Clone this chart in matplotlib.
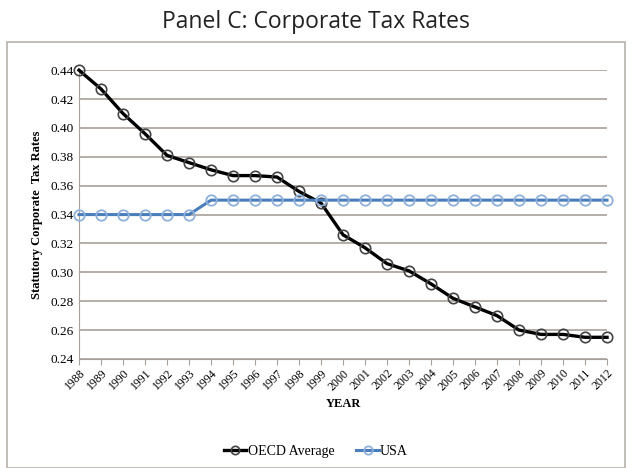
import matplotlib
matplotlib.use("Agg")
import matplotlib.pyplot as plt
from matplotlib.patches import Rectangle

years = list(range(1988, 2013))
oecd = [0.440, 0.427, 0.410, 0.396, 0.381, 0.376, 0.371, 0.367, 0.367, 0.366,
        0.356, 0.348, 0.326, 0.317, 0.306, 0.301, 0.292, 0.282, 0.276, 0.270,
        0.260, 0.257, 0.257, 0.255, 0.255]
usa = [0.34] * 6 + [0.35] * 19
yticks = [0.24, 0.26, 0.28, 0.30, 0.32, 0.34, 0.36, 0.38, 0.40, 0.42, 0.44]

serif = "Liberation Serif"

fig = plt.figure(figsize=(6.32, 4.68), dpi=100)
ax = fig.add_axes([0.125, 0.233, 0.8355, 0.617])

# frame around the chart
fig.patches.append(Rectangle((0.011, 0.0), 0.978, 0.91, transform=fig.transFigure,
                             fill=False, edgecolor="#b5b0ab", lw=1.2))
fig.text(0.5, 0.953, "Panel C: Corporate Tax Rates", ha="center", va="center",
         fontsize=16.5, family="Open Sans", color="#222222")

ax.plot(years, oecd, color="black", lw=2.4, marker="o", ms=7.5,
        mfc="none", mec="#444444", mew=1.2, clip_on=False, label="OECD Average", zorder=3)
ax.plot(years, usa, color="#4a7ebb", lw=2.2, marker="o", ms=7.5,
        mfc="none", mec="#8fb0da", mew=1.3, clip_on=False, label="USA", zorder=3)

ax.set_xlim(1988, 2012)
ax.set_ylim(0.24, 0.44)
ax.set_yticks(yticks)
ax.set_yticklabels([f"{v:.2f}" for v in yticks], family=serif, fontsize=9.5)
ax.set_xticks(years)
ax.set_xticklabels([str(y) for y in years], rotation=45, ha="right",
                   rotation_mode="anchor", family=serif, fontsize=8.5)
ax.grid(axis="y", color="#a8a09a", lw=1.2)
ax.set_axisbelow(True)
for s in ["top", "right"]:
    ax.spines[s].set_visible(False)
ax.spines["left"].set_color("#a8a09a")
ax.spines["bottom"].set_color("#a8a09a")
ax.tick_params(axis="y", length=0, pad=4)
ax.tick_params(axis="x", length=4, color="#a8a09a", pad=2)

ax.set_ylabel("Statutory Corporate  Tax Rates", family=serif, fontweight="bold",
              fontsize=9, labelpad=5)
ax.set_xlabel("YEAR", family=serif, fontweight="bold", fontsize=9, labelpad=4)

leg = fig.legend(loc="center", bbox_to_anchor=(0.5, 0.036), ncol=2, frameon=False,
                 prop={"family": serif, "size": 10}, handlelength=1.6,
                 columnspacing=1.6, handletextpad=0.1)
for h in leg.legend_handles:
    h.set_markersize(6)

fig.savefig("out.png", dpi=100)
